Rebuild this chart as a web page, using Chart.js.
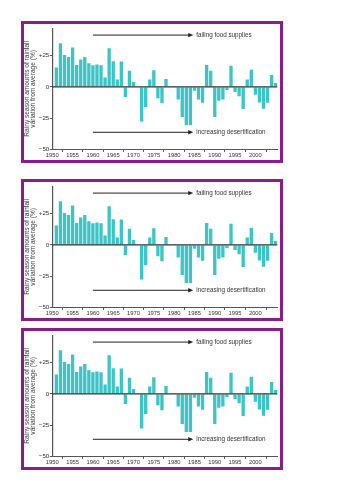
<!DOCTYPE html>
<html>
<head>
<meta charset="utf-8">
<script src="https://cdn.jsdelivr.net/npm/chart.js@4/dist/chart.umd.min.js"></script>
<style>
  html, body { margin:0; padding:0; background:#fff; width:354px; height:500px; overflow:hidden; }
  .panel { position:absolute; left:21px; width:256px; height:136px; border:3px solid #8a1d8e; background:#fff; }
  .panel canvas { display:block; }
</style>
</head>
<body>
<div class="panel" style="top:21px"><canvas id="c1" width="256" height="136"></canvas></div>
<div class="panel" style="top:179px"><canvas id="c2" width="256" height="136"></canvas></div>
<div class="panel" style="top:328px"><canvas id="c3" width="256" height="136"></canvas></div>
<script>
// ---- data ----
const years = [1951,1952,1953,1954,1955,1956,1957,1958,1959,1960,
               1961,1962,1963,1964,1965,1966,1967,1968,1969,1970,
               1971,1972,1973,1974,1975,1976,1977,1978,1979,1980,
               1981,1982,1983,1984,1985,1986,1987,1988,1989,1990,
               1991,1992,1993,1994,1995,1996,1997,1998,1999,2000,
               2001,2002,2003,2004,2005];
const rainfallVariation = [15.5,35,25.5,24,31.5,17.6,22,24,19,17.4,
                           18,17.4,7.6,31,20.5,6,20.3,-8,13,4,
                           0,-27.6,-16,6,13.4,-9,-13,6.3,0,0.8,
                           -10,-24,-30.5,-30.5,-3,-10,-12.6,17.6,13,-24,
                           -11,-10,-2.4,17,-4,-7.4,-17.6,6,13.7,-6.3,
                           -12.4,-17.4,-12.6,9.5,3.2];
const yTickValues = [-50, -25, 0, 25];
const yTickLabels = ['\u221250', '\u221225', '0', '+25'];
const xTickYears = [1950,1955,1960,1965,1970,1975,1980,1985,1990,1995,2000];
const yAxisTitle = ['Rainy season amounts of rainfall', 'variation from average (%)'];
const arrowNotes = [
  { text: 'failing food supplies', fromYear: 1960, toYear: 1984.7, value: 41.5 },
  { text: 'increasing desertification', fromYear: 1960, toYear: 1984.7, value: -36.3 }
];

const FONT = "'Liberation Sans', Arial, Helvetica, sans-serif";

const overlayPlugin = {
  id: 'overlay',
  afterDatasetsDraw(chart) {
    const {ctx, chartArea, scales: {x, y}} = chart;
    ctx.save();
    // zero line
    const y0 = y.getPixelForValue(0);
    ctx.strokeStyle = '#333';
    ctx.lineWidth = 1.3;
    ctx.beginPath();
    ctx.moveTo(chartArea.left, y0);
    ctx.lineTo(chartArea.right, y0);
    ctx.stroke();
    // arrows
    arrowNotes.forEach(a => {
      const x1 = x.getPixelForValue(a.fromYear);
      const x2 = x.getPixelForValue(a.toYear);
      const yy = y.getPixelForValue(a.value);
      ctx.strokeStyle = '#222';
      ctx.fillStyle = '#222';
      ctx.lineWidth = 1;
      ctx.beginPath();
      ctx.moveTo(x1, yy);
      ctx.lineTo(x2 - 4, yy);
      ctx.stroke();
      ctx.beginPath();
      ctx.moveTo(x2, yy);
      ctx.lineTo(x2 - 5, yy - 2.2);
      ctx.lineTo(x2 - 5, yy + 2.2);
      ctx.closePath();
      ctx.fill();
      ctx.fillStyle = '#333';
      ctx.font = '6.3px ' + FONT;
      ctx.textBaseline = 'middle';
      ctx.textAlign = 'left';
      ctx.fillText(a.text, x2 + 3, yy);
    });
    ctx.restore();
  }
};

function makeChart(id) {
  new Chart(document.getElementById(id), {
    type: 'bar',
    data: {
      datasets: [{
        data: years.map((yr, i) => ({ x: yr, y: rainfallVariation[i] })),
        backgroundColor: '#3cc4c7',
        borderWidth: 0,
        categoryPercentage: 1,
        barPercentage: 0.82
      }]
    },
    options: {
      responsive: false,
      animation: false,
      devicePixelRatio: 1,
      layout: { padding: { top: 2.4, right: 2.7, left: 0, bottom: 0 } },
      plugins: { legend: { display: false }, tooltip: { enabled: false } },
      scales: {
        x: {
          type: 'linear',
          min: 1950,
          max: 2005.4,
          offset: false,
          afterBuildTicks: s => { s.ticks = xTickYears.concat([2005.4]).map(v => ({ value: v })); },
          afterFit: s => { s.height = 10.6; },
          ticks: {
            autoSkip: false, maxRotation: 0, padding: 0.5,
            color: '#333', font: { family: FONT, size: 5.8 },
            callback: v => (xTickYears.includes(v) ? String(v) : '')
          },
          grid: { display: true, drawOnChartArea: false, drawTicks: true, tickLength: 2.5, tickColor: '#555', color: '#555' },
          border: { display: true, color: '#555', width: 1 }
        },
        y: {
          type: 'linear',
          min: -50,
          max: 47,
          afterBuildTicks: s => { s.ticks = yTickValues.map(v => ({ value: v })); },
          afterFit: s => { s.width = 28.3; },
          ticks: {
            padding: 0.5, color: '#333', font: { family: FONT, size: 6.2 },
            callback: v => yTickLabels[yTickValues.indexOf(v)]
          },
          grid: { display: true, drawOnChartArea: false, drawTicks: true, tickLength: 2.5, tickColor: '#555', color: '#555' },
          border: { display: true, color: '#555', width: 1.2 },
          title: {
            display: true, text: yAxisTitle, color: '#444',
            font: { family: FONT, size: 6.6, lineHeight: 0.8 },
            padding: { top: 1, bottom: 0 }
          }
        }
      }
    },
    plugins: [overlayPlugin]
  });
}
makeChart('c1');
makeChart('c2');
makeChart('c3');
</script>
</body>
</html>
